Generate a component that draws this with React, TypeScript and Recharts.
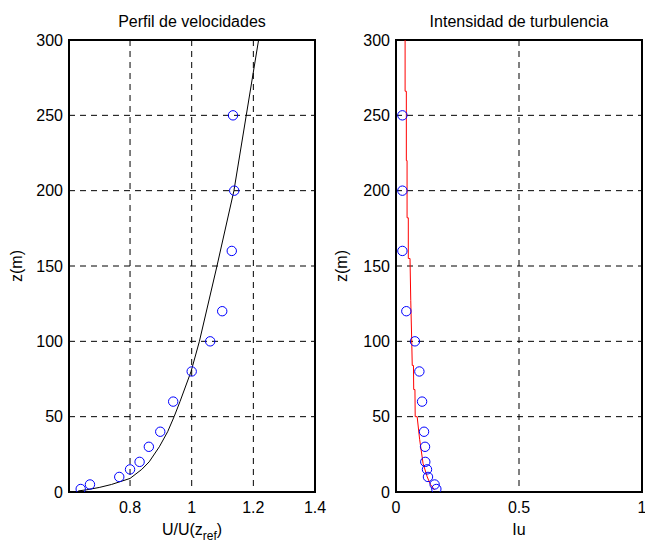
import React from "react";
import { ScatterChart, Scatter, XAxis, YAxis, CartesianGrid, ReferenceArea } from "recharts";

// Measured heights (m)
const zMeasured = [2, 5, 10, 15, 20, 30, 40, 60, 80, 100, 120, 160, 200, 250];
// Measured U/U(zref)
const uMeasured = [0.640, 0.670, 0.765, 0.800, 0.831, 0.861, 0.898, 0.940, 1.000, 1.060, 1.099, 1.130, 1.138, 1.134];
// Measured turbulence intensity
const iuMeasured = [0.164, 0.157, 0.130, 0.126, 0.119, 0.118, 0.114, 0.106, 0.095, 0.077, 0.042, 0.026, 0.026, 0.026];

// Theoretical velocity profile (black line)
const zProfile = [0.7, 1.5, 3, 5, 9, 15, 20, 30, 40, 50, 60, 80, 100, 150, 200, 250, 300];
const uProfile = [0.632, 0.66, 0.70, 0.74, 0.80, 0.838, 0.862, 0.895, 0.922, 0.943, 0.962, 0.998, 1.025, 1.082, 1.137, 1.177, 1.217];

// Turbulence intensity profile (red line)
const zIuProfile = [300, 266, 266, 220, 220, 182, 182, 155, 155, 127, 100, 84, 84, 68, 68, 50, 50, 35, 19, 10, 5, 1.3];
const iuProfile = [0.037, 0.037, 0.042, 0.042, 0.045, 0.045, 0.050, 0.050, 0.057, 0.060, 0.064, 0.066, 0.071, 0.072, 0.077, 0.078, 0.086, 0.096, 0.110, 0.127, 0.140, 0.157];

const zTicks = [0, 50, 100, 150, 200, 250, 300];
const uTicks = [0.8, 1, 1.2, 1.4];
const iuTicks = [0, 0.5, 1];

const titles = ["Perfil de velocidades", "Intensidad de turbulencia"];

const FONT = "'Liberation Sans', Arial, Helvetica, sans-serif";

const measuredU = zMeasured.map((z, i) => ({ x: uMeasured[i], z }));
const measuredIu = zMeasured.map((z, i) => ({ x: iuMeasured[i], z }));
const profileU = zProfile.map((z, i) => ({ x: uProfile[i], z }));
const profileIu = zIuProfile.map((z, i) => ({ x: iuProfile[i], z }));

const Circle = (p: any) => (
  <circle cx={p.cx} cy={p.cy} r={4.7} fill="none" stroke="#0000ff" strokeWidth={1} />
);
const NoShape = () => <g />;

function TitleLabel(props: any) {
  const vb = props.viewBox || { x: 0, y: 40, width: 0, height: 0 };
  return (
    <text x={vb.x + vb.width / 2} y={vb.y - 13} textAnchor="middle" fontFamily={FONT} fontSize={16} fill="#000">
      {props.text}
    </text>
  );
}

function XLabelU(props: any) {
  const vb = props.viewBox || { x: 0, y: 492, width: 0 };
  return (
    <text x={vb.x + vb.width / 2} y={535} textAnchor="middle" fontFamily={FONT} fontSize={16} fill="#000">
      U/U(z
      <tspan dy={5} fontSize={12}>ref</tspan>
      <tspan dy={-5}>)</tspan>
    </text>
  );
}

function XLabelIu(props: any) {
  const vb = props.viewBox || { x: 0, y: 492, width: 0 };
  return (
    <text x={vb.x + vb.width / 2} y={535} textAnchor="middle" fontFamily={FONT} fontSize={16} fill="#000">
      Iu
    </text>
  );
}

function YLabel(props: any) {
  const x = props.xpos;
  const y = 40 + 452 / 2;
  return (
    <text x={x} y={y} transform={`rotate(-90 ${x} ${y})`} textAnchor="middle" fontFamily={FONT} fontSize={16} fill="#000">
      z(m)
    </text>
  );
}

const tickStyle = { fill: "#000", fontSize: 16, fontFamily: FONT };

function Panel(props: {
  margin: any;
  xDomain: [number, number];
  xTicks: number[];
  title: string;
  xLabel: any;
  yLabelX: number;
  scatter: any[];
  line: any[];
  lineColor: string;
}) {
  return (
    <div style={{ position: "absolute", left: 0, top: 0 }}>
      <ScatterChart width={645} height={542} margin={props.margin}>
        <CartesianGrid stroke="#000" strokeDasharray="6 5" strokeWidth={1} />
        <XAxis
          type="number"
          dataKey="x"
          domain={props.xDomain}
          ticks={props.xTicks}
          allowDataOverflow
          interval={0}
          height={30}
          axisLine={false}
          tickLine={false}
          tickSize={0}
          tickMargin={10}
          tick={tickStyle}
          label={props.xLabel}
        />
        <YAxis
          type="number"
          dataKey="z"
          domain={[0, 300]}
          ticks={zTicks}
          allowDataOverflow
          interval={0}
          width={60}
          axisLine={false}
          tickLine={false}
          tickSize={0}
          tickMargin={6}
          tick={tickStyle}
          label={<YLabel xpos={props.yLabelX} />}
        />
        <ReferenceArea
          x1={props.xDomain[0]}
          x2={props.xDomain[1]}
          y1={0}
          y2={300}
          fill="none"
          fillOpacity={0}
          stroke="#000"
          strokeWidth={2}
          label={<TitleLabel text={props.title} />}
        />
        <Scatter
          data={props.line}
          line={{ stroke: props.lineColor, strokeWidth: 1 }}
          shape={NoShape}
          isAnimationActive={false}
        />
        <Scatter data={props.scatter} shape={Circle} isAnimationActive={false} />
      </ScatterChart>
    </div>
  );
}

export default function App() {
  return (
    <div style={{ position: "absolute", left: 0, top: 0, width: 645, height: 542, background: "#fff" }}>
      <Panel
        margin={{ top: 40, right: 330, bottom: 20, left: 9 }}
        xDomain={[0.602, 1.4]}
        xTicks={uTicks}
        title={titles[0]}
        xLabel={<XLabelU />}
        yLabelX={22}
        scatter={measuredU}
        line={profileU}
        lineColor="#000"
      />
      <Panel
        margin={{ top: 40, right: 3, bottom: 20, left: 336 }}
        xDomain={[0, 1]}
        xTicks={iuTicks}
        title={titles[1]}
        xLabel={<XLabelIu />}
        yLabelX={347}
        scatter={measuredIu}
        line={profileIu}
        lineColor="#ff0000"
      />
    </div>
  );
}
